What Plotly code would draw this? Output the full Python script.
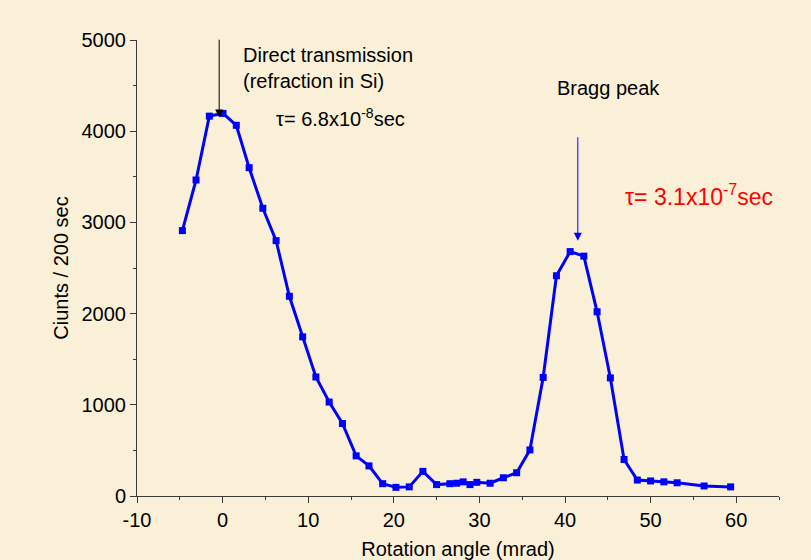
import plotly.graph_objects as go

# Rotation angle (mrad) and counts per 200 s
angle = [-4.7, -3.1, -1.55, 0.05, 1.6, 3.1, 4.7, 6.25, 7.8, 9.35, 10.9, 12.45,
         14.0, 15.6, 17.1, 18.7, 20.25, 21.8, 23.4, 25.0, 26.55, 27.35, 28.1,
         28.9, 29.7, 31.25, 32.8, 34.35, 35.9, 37.45, 39.0, 40.6, 42.2, 43.75,
         45.3, 46.9, 48.45, 50.0, 51.55, 53.1, 56.25, 59.35]
counts = [2910, 3465, 4165, 4195, 4065, 3600, 3155, 2800, 2190, 1745, 1305, 1030,
          795, 440, 330, 135, 95, 100, 270, 125, 135, 140, 155,
          125, 150, 140, 200, 255, 505, 1300, 2415, 2680, 2630, 2020,
          1295, 400, 175, 165, 155, 145, 110, 100]

x_ticks = [-10, 0, 10, 20, 30, 40, 50, 60]
y_ticks = [0, 1000, 2000, 3000, 4000, 5000]

# Arrow markers: direct-beam position and Bragg peak position
direct_arrow = dict(x=-0.4, tail=5020, tip=4150)
bragg_arrow = dict(x=41.5, tail=3950, tip=2800)

BG = "#FAF0D8"
FONT = "Arial, Liberation Sans, sans-serif"
AXIS_COL = "#3a3a3a"

fig = go.Figure()
fig.add_trace(go.Scatter(
    x=angle, y=counts, mode="lines+markers",
    line=dict(color="#0000FF", width=3),
    marker=dict(symbol="square", size=7, color="#0000FF", line=dict(width=0)),
    showlegend=False, cliponaxis=False,
))

fig.update_layout(
    width=811, height=560,
    margin=dict(l=137, r=32, t=40, b=64),
    paper_bgcolor=BG, plot_bgcolor=BG,
    font=dict(family=FONT, size=20, color="#000000"),
)

fig.update_xaxes(
    range=[-10, 65], tickvals=x_ticks, ticktext=[str(v) for v in x_ticks],
    automargin=False,
    showgrid=False, zeroline=False, showline=True, linecolor=AXIS_COL, linewidth=1,
    ticks="outside", ticklen=6, tickwidth=1, tickcolor=AXIS_COL,
    minor=dict(ticks="outside", ticklen=3, dtick=5, tick0=0, tickcolor=AXIS_COL, showgrid=False),
    title=dict(text="Rotation angle (mrad)", standoff=16, font=dict(size=20)),
    tickfont=dict(size=20),
)
fig.update_yaxes(
    range=[0, 5000], tickvals=y_ticks, ticktext=[str(v) for v in y_ticks],
    automargin=False,
    showgrid=False, zeroline=False, showline=True, linecolor=AXIS_COL, linewidth=1,
    ticks="outside", ticklen=6, tickwidth=1, tickcolor=AXIS_COL,
    minor=dict(ticks="outside", ticklen=3, dtick=500, tick0=0, tickcolor=AXIS_COL, showgrid=False),
    title=dict(text="Ciunts / 200 sec", standoff=7, font=dict(size=20)),
    tickfont=dict(size=20),
)

# Arrows
fig.add_annotation(x=direct_arrow["x"], y=direct_arrow["tip"],
                   ax=direct_arrow["x"], ay=direct_arrow["tail"],
                   xref="x", yref="y", axref="x", ayref="y", text="",
                   showarrow=True, arrowhead=2, arrowsize=1.6, arrowwidth=1,
                   arrowcolor="#000000", standoff=0)
fig.add_annotation(x=bragg_arrow["x"], y=bragg_arrow["tip"],
                   ax=bragg_arrow["x"], ay=bragg_arrow["tail"],
                   xref="x", yref="y", axref="x", ayref="y", text="",
                   showarrow=True, arrowhead=2, arrowsize=1.6, arrowwidth=1,
                   arrowcolor="#0000FF", standoff=0)

# Labels
fig.add_annotation(x=0.162, y=0.9956, xref="paper", yref="paper",
                   xanchor="left", yanchor="top", align="left", showarrow=False,
                   text="Direct transmission<br>(refraction in Si)",
                   font=dict(size=20, color="#000000"))
fig.add_annotation(x=0.2134, y=0.829, xref="paper", yref="paper",
                   xanchor="left", yanchor="middle", showarrow=False,
                   text="τ= 6.8x10<sup>-8</sup>sec",
                   font=dict(size=20, color="#000000"))
fig.add_annotation(x=0.651, y=0.895, xref="paper", yref="paper",
                   xanchor="left", yanchor="middle", showarrow=False,
                   text="Bragg peak", font=dict(size=20, color="#000000"))
fig.add_annotation(x=0.757, y=0.66, xref="paper", yref="paper",
                   xanchor="left", yanchor="middle", showarrow=False,
                   text="τ= 3.1x10<sup>-7</sup>sec",
                   font=dict(size=23, color="#FF0000"))

fig.write_html("out.html")
